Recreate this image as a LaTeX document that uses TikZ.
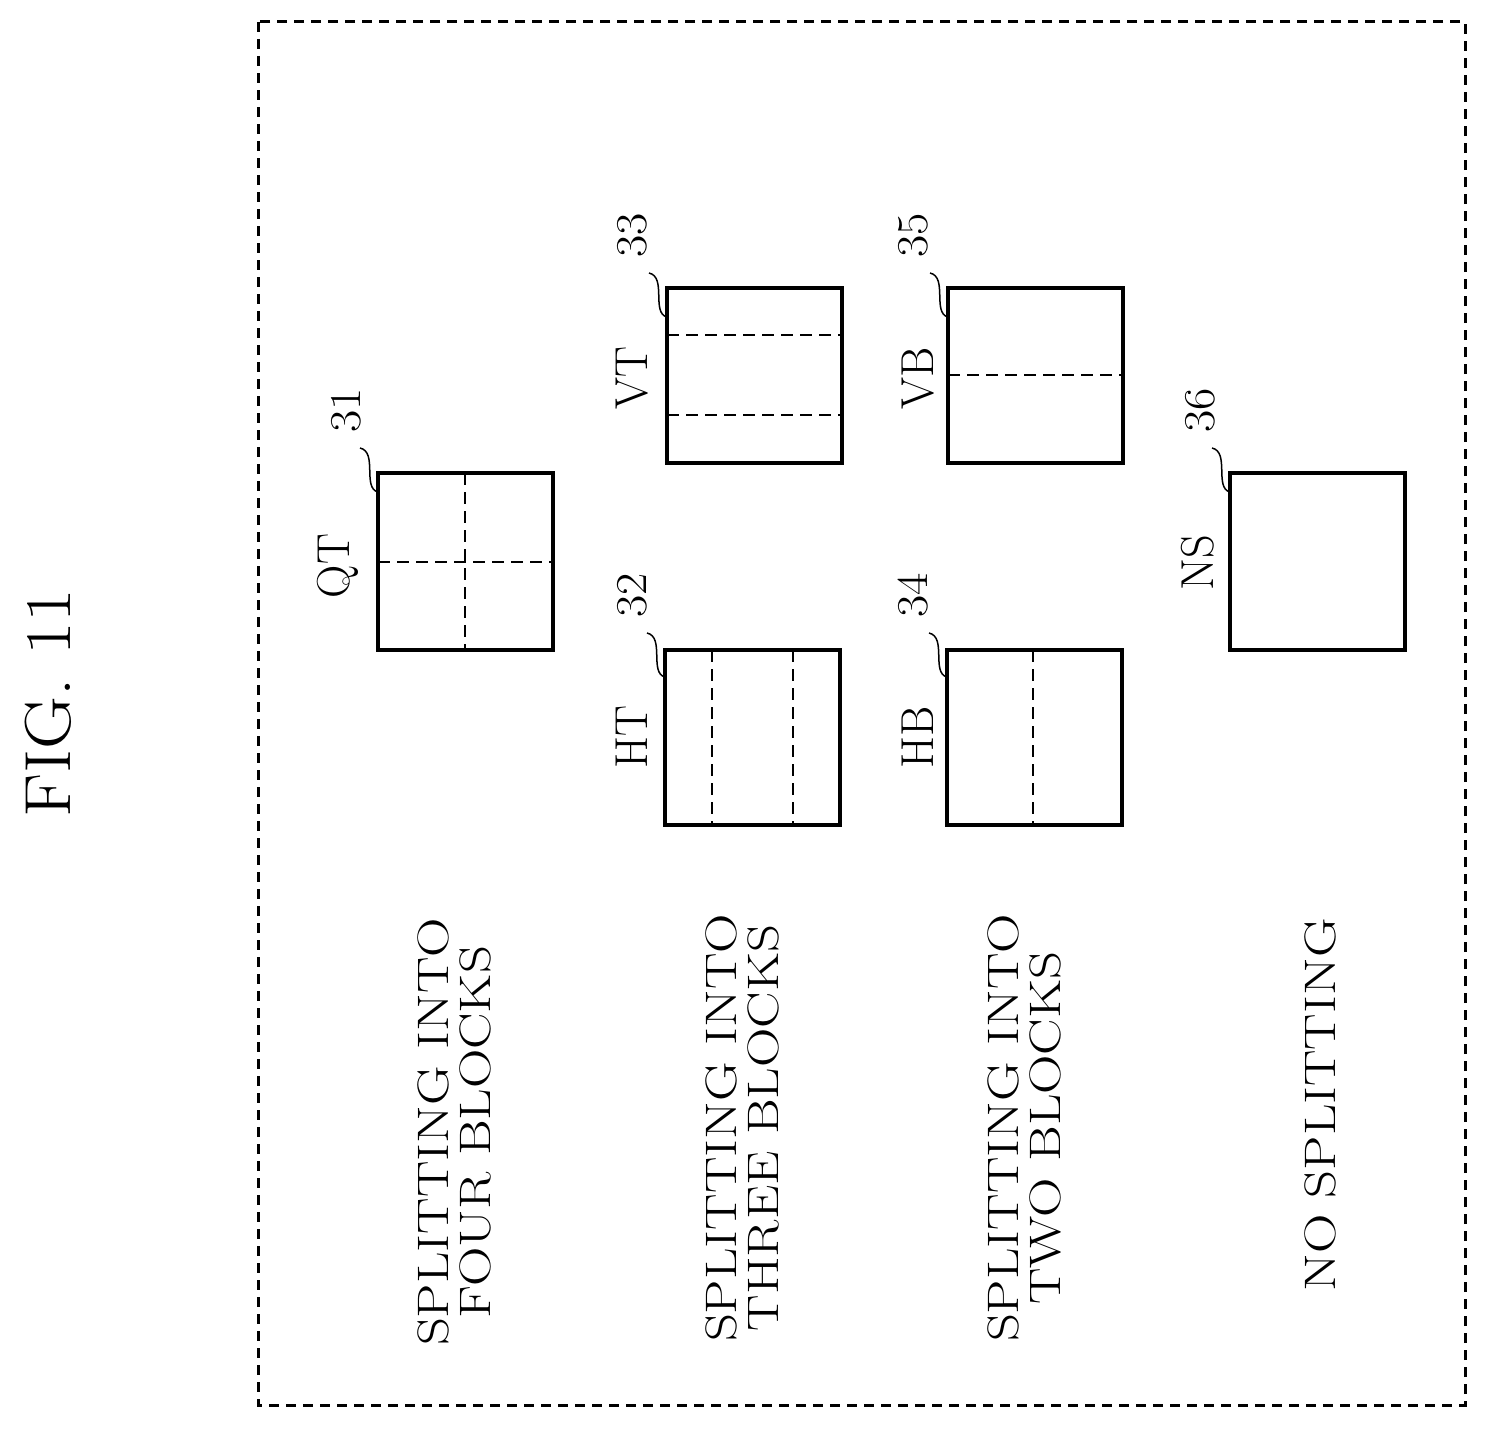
\documentclass[tikz,border=0pt]{standalone}
\newcommand{\wide}[2]{\scalebox{#1}[1.05]{#2}}
\begin{document}
\begin{tikzpicture}[x=1pt,y=-1pt,
 box/.style={line width=3.5pt},
 dl/.style={line width=2pt,dash pattern=on 12pt off 7pt},
 lab/.style={rotate=90,font=\fontsize{44}{46}\selectfont,inner sep=0pt},
 num/.style={rotate=90,font=\fontsize{42}{44}\selectfont,inner sep=0pt},
 txt/.style={rotate=90,font=\fontsize{42}{44}\selectfont,inner sep=0pt},
 lead/.style={line width=1.5pt}]
\useasboundingbox (0,0) rectangle (1487,1429);
\draw[line width=3pt,dash pattern=on 10pt off 7pt] (258,22) rectangle (1465,1405);
\node[rotate=90,font=\fontsize{62}{64}\selectfont,inner sep=0pt] (fig) at (48,703) {\wide{1.18}{FIG. 11}};
% QT
\draw[box] (378,473) rectangle (553,650);
\draw[dl] (465,473)--(465,650) (378,562)--(553,562);
\node[lab] (qt) at (338,566) {\wide{1.05}{QT}};
\node[num] (n31) at (346,410) {\wide{1.15}{31}};
\draw[lead] (360,448) .. controls (378,452) and (362,488) .. (378,492);
% HT
\draw[box] (665,650) rectangle (840,825);
\draw[dl] (712,650)--(712,825) (793,650)--(793,825);
\node[lab] (ht) at (632,737) {\wide{1.05}{HT}};
\node[num] (n32) at (632,595) {\wide{1.15}{32}};
\draw[lead] (647,633) .. controls (665,637) and (649,673) .. (665,677);
% VT
\draw[box] (667,288) rectangle (842,463);
\draw[dl] (667,335)--(842,335) (667,415)--(842,415);
\node[lab] (vt) at (632,378) {\wide{1.05}{VT}};
\node[num] (n33) at (632,235) {\wide{1.15}{33}};
\draw[lead] (649,273) .. controls (667,277) and (651,313) .. (667,317);
% HB
\draw[box] (947,650) rectangle (1122,825);
\draw[dl] (1033,650)--(1033,825);
\node[lab] (hb) at (918,737) {\wide{1.05}{HB}};
\node[num] (n34) at (913,595) {\wide{1.15}{34}};
\draw[lead] (929,633) .. controls (947,637) and (931,673) .. (947,677);
% VB
\draw[box] (948,288) rectangle (1123,463);
\draw[dl] (948,375)--(1123,375);
\node[lab] (vb) at (918,378) {\wide{1.05}{VB}};
\node[num] (n35) at (913,235) {\wide{1.15}{35}};
\draw[lead] (930,273) .. controls (948,277) and (932,313) .. (948,317);
% NS
\draw[box] (1230,473) rectangle (1405,650);
\node[lab] (ns) at (1198,563) {\wide{1.05}{NS}};
\node[num] (n36) at (1200,410) {\wide{1.15}{36}};
\draw[lead] (1212,448) .. controls (1230,452) and (1214,488) .. (1230,492);
% texts
\node[txt] (t1) at (460,1132) {\wide{1.3}{\begin{tabular}{@{}c@{}}SPLITTING INTO\\[-4pt]FOUR BLOCKS\end{tabular}}};
\node[txt] (t2) at (748,1128) {\wide{1.3}{\begin{tabular}{@{}c@{}}SPLITTING INTO\\[-4pt]THREE BLOCKS\end{tabular}}};
\node[txt] (t3) at (1030,1128) {\wide{1.3}{\begin{tabular}{@{}c@{}}SPLITTING INTO\\[-4pt]TWO BLOCKS\end{tabular}}};
\node[txt] (t4) at (1320,1105) {\wide{1.3}{NO SPLITTING}};
\end{tikzpicture}
\end{document}
